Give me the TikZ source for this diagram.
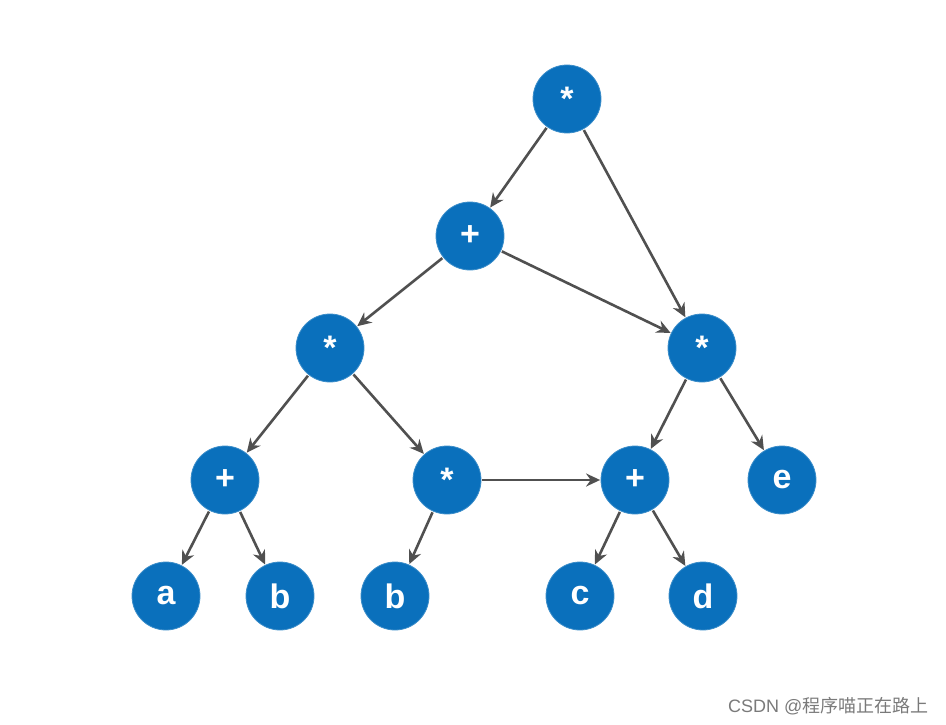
\documentclass[tikz,border=0pt]{standalone}
\usepackage{fontspec}
\setmainfont{Liberation Sans}
\newfontfamily\cjk{Noto Sans CJK SC}
\usetikzlibrary{arrows.meta, positioning}

\definecolor{nodeblue}{HTML}{0A70BC}
\definecolor{edgegray}{HTML}{505050}
\definecolor{markgray}{HTML}{7A7A7A}

\begin{document}
\begin{tikzpicture}[
  x=1pt, y=-1pt,
  >={Stealth[length=14pt, width=13pt]},
  opnode/.style={
    circle,
    minimum size=68pt,
    inner sep=0pt,
    fill=nodeblue,
    draw=nodeblue!80!white,
    line width=0.8pt,
    text=white,
    font=\fontsize{34}{40}\selectfont\bfseries,
  },
  edge/.style={
    ->,
    line width=2.6pt,
    edgegray,
    shorten <=1pt,
    shorten >=0.5pt,
  },
]
\useasboundingbox (0,0) rectangle (946,725);

% ============================================================
% NODES
% ============================================================
\node[opnode] (root)  at (567, 99) {*};
\node[opnode] (plusA) at (470,236) {+};
\node[opnode] (mulL)  at (330,348) {*};
\node[opnode] (mulR)  at (702,348) {*};
\node[opnode] (plusL) at (225,480) {+};
\node[opnode] (mulM)  at (447,480) {*};
\node[opnode] (plusR) at (635,480) {+};
\node[opnode] (e)     at (782,480) {e};
\node[opnode] (a)     at (166,596) {a};
\node[opnode] (bL)    at (280,596) {b};
\node[opnode] (bM)    at (395,596) {b};
\node[opnode] (c)     at (580,596) {c};
\node[opnode] (d)     at (703,596) {d};

% ============================================================
% EDGES
% ============================================================
\draw[edge] (root)  -- (plusA);
\draw[edge] (root)  -- (mulR);
\draw[edge] (plusA) -- (mulL);
\draw[edge] (plusA) -- (mulR);
\draw[edge] (mulL)  -- (plusL);
\draw[edge] (mulL)  -- (mulM);
\draw[edge] (mulR)  -- (plusR);
\draw[edge] (mulR)  -- (e);
\draw[edge] (plusL) -- (a);
\draw[edge] (plusL) -- (bL);
\draw[edge] (mulM)  -- (bM);
\draw[edge] (mulM)  -- (plusR);
\draw[edge] (plusR) -- (c);
\draw[edge] (plusR) -- (d);

% watermark
\node[font=\fontsize{18}{21}\selectfont, text=markgray, anchor=east]
  (mark) at (932,706) {CSDN @{\cjk 程序喵正在路上}};

\end{tikzpicture}
\end{document}
